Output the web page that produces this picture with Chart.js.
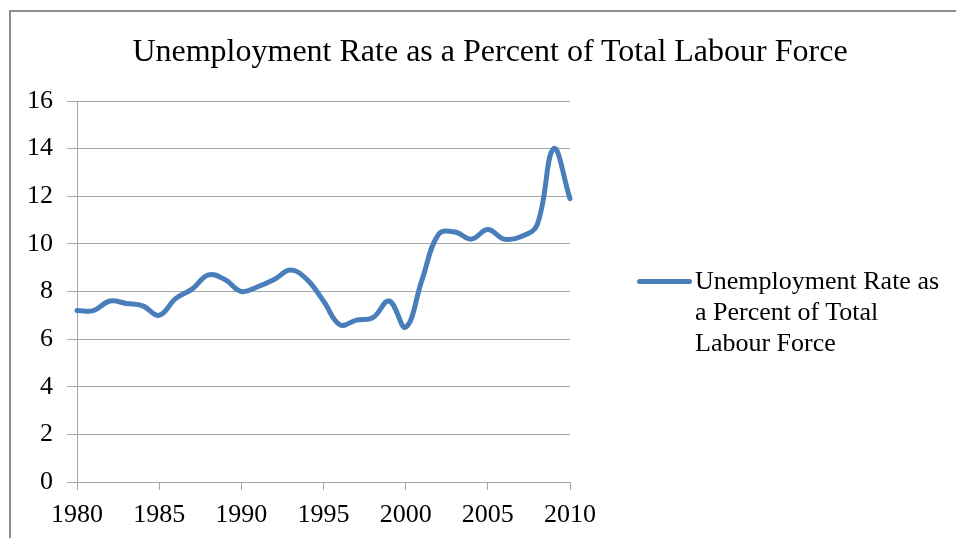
<!DOCTYPE html>
<html>
<head>
<meta charset="utf-8">
<title>Unemployment Rate</title>
<script src="https://cdn.jsdelivr.net/npm/chart.js@4/dist/chart.umd.min.js"></script>
<style>
  body { margin: 0; background: #fff; }
  #wrap { position: relative; width: 956px; height: 538px; overflow: hidden; }
  #frame {
    position: absolute; left: 9px; top: 10px; width: 1000px; height: 600px;
    border-left: 2px solid #8e8e8e; border-top: 2px solid #8e8e8e;
  }
  #myChart { position: absolute; left: 0; top: 0; }
  #title {
    position: absolute; left: 0; top: 30px; width: 980px; text-align: center;
    font-family: "Liberation Serif", "Times New Roman", serif;
    font-size: 32px; line-height: 40px; color: #000; white-space: nowrap;
  }
  #legend {
    position: absolute; left: 637px; top: 265px;
    font-family: "Liberation Serif", "Times New Roman", serif;
    font-size: 26px; line-height: 31px; color: #000;
  }
  #legend .swatch {
    position: absolute; left: 0; top: 14px; width: 55px; height: 5px;
    background: #4a7ebb; border-radius: 3px;
  }
  #legend .text { margin-left: 58px; white-space: nowrap; }
</style>
</head>
<body>
<div id="wrap">
  <div id="frame"></div>
  <canvas id="myChart" width="956" height="538"></canvas>
  <div id="title"></div>
  <div id="legend">
    <div class="swatch"></div>
    <div class="text" id="legendText"></div>
  </div>
</div>
<script>
"use strict"

// chart text
let chartTitle = "Unemployment Rate as a Percent of Total Labour Force";
let seriesName = "Unemployment Rate as a Percent of Total Labour Force";
let legendLines = ["Unemployment Rate as", "a Percent of Total", "Labour Force"];

// years on the x axis
let years = [
  1980, 1981, 1982, 1983, 1984, 1985, 1986, 1987, 1988, 1989,
  1990, 1991, 1992, 1993, 1994, 1995, 1996, 1997, 1998, 1999,
  2000, 2001, 2002, 2003, 2004, 2005, 2006, 2007, 2008, 2009, 2010
];

// unemployment rate
let rates = [
  7.2, 7.2, 7.6, 7.5, 7.4, 7.0, 7.7, 8.1, 8.7, 8.5,
  8.0, 8.2, 8.5, 8.9, 8.5, 7.6, 6.6, 6.8, 6.9, 7.6,
  6.5, 8.5, 10.4, 10.5, 10.2, 10.6, 10.2, 10.3, 10.8, 14.0, 11.9
];

// tick labels
let xTicks = [1980, 1985, 1990, 1995, 2000, 2005, 2010];
let yTicks = [0, 2, 4, 6, 8, 10, 12, 14, 16];

let points = [];
for (let i = 0; i < years.length; i++) {
  points.push({ x: years[i], y: rates[i] });
}

// title and legend are plain html text
document.getElementById("title").textContent = chartTitle;
document.getElementById("legendText").innerHTML = legendLines.join("<br>");

const serif = "'Liberation Serif', 'Times New Roman', serif";
const gridGray = "#a6a6a6";

const ctx = document.getElementById("myChart").getContext("2d");
const myChart = new Chart(ctx, {
  type: "line",
  data: {
    datasets: [
      {
        label: seriesName,
        data: points,
        borderColor: "#4a7ebb",
        borderWidth: 5,
        pointRadius: 0,
        tension: 0.4,
        borderCapStyle: "round",
        clip: false,
        fill: false
      }
    ]
  },
  options: {
    responsive: false,
    animation: false,
    layout: {
      padding: { left: 0, right: 386, top: 101, bottom: 0 }
    },
    plugins: {
      legend: { display: false },
      tooltip: { enabled: false },
      title: { display: false }
    },
    scales: {
      x: {
        type: "linear",
        min: xTicks[0],
        max: xTicks[xTicks.length - 1],
        afterBuildTicks: function (scale) {
          scale.ticks = xTicks.map(function (v) { return { value: v }; });
        },
        afterFit: function (scale) {
          scale.height = 56;
        },
        ticks: {
          color: "#000",
          font: { family: serif, size: 26 },
          padding: 10,
          maxRotation: 0,
          callback: function (v) { return String(v); }
        },
        grid: {
          drawOnChartArea: false,
          drawTicks: true,
          tickLength: 8,
          color: gridGray
        },
        border: { color: gridGray, width: 1 }
      },
      y: {
        min: yTicks[0],
        max: yTicks[yTicks.length - 1],
        afterBuildTicks: function (scale) {
          scale.ticks = yTicks.map(function (v) { return { value: v }; });
        },
        afterFit: function (scale) {
          scale.width = 77;
        },
        ticks: {
          color: "#000",
          font: { family: serif, size: 26 },
          padding: 14
        },
        grid: {
          color: gridGray,
          tickLength: 10,
          lineWidth: 1
        },
        border: { color: gridGray, width: 1 }
      }
    }
  }
});
</script>
</body>
</html>
